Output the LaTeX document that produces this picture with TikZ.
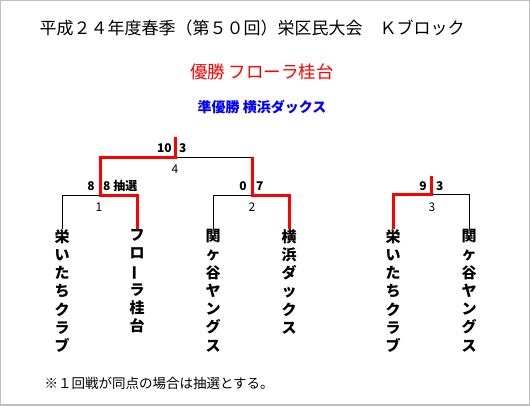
\documentclass[tikz,border=0pt]{standalone}
\usepackage{fontspec}
\setmainfont{Noto Sans CJK JP}
\usepackage{graphicx}
\usetikzlibrary{positioning}

\begin{document}
\begin{tikzpicture}[x=1pt, y=-1pt,
  team/.style={anchor=north, inner sep=0pt, align=center, font=\fontsize{15}{18.3}\selectfont\bfseries},
  score/.style={inner sep=0pt, font=\fontsize{12}{12}\selectfont\bfseries},
  num/.style={inner sep=0pt, font=\fontsize{12}{12}\selectfont},
  lostline/.style={draw=black, line width=1pt},
  wonline/.style={draw=red, line width=3pt}]
\useasboundingbox (0,0) rectangle (530,405);
\draw[black!25, line width=2pt] (0,0) rectangle (530,405);
\node[font=\fontsize{17}{17}\selectfont] (title) at (252,28) {平成２４年度春季（第５０回）栄区民大会　Ｋブロック};
\node[red, font=\fontsize{17.5}{17.5}\selectfont] (champ) at (262,72) {優勝 フローラ桂台};
\node[blue, font=\fontsize{14}{14}\selectfont\bfseries] (runnerup) at (262,107) {準優勝 横浜ダックス};
\coordinate (top4) at (175,137);
\coordinate (m4) at (175,157);
\coordinate (m1) at (100,195);
\coordinate (m2) at (252,195);
\coordinate (top3) at (431,176);
\coordinate (m3) at (431,194);
\node[team] (t1) at (62,229) {栄\\い\\た\\ち\\ク\\ラ\\ブ};
\node[team] (t2) at (137,229) {フ\\ロ\\\rotatebox[origin=c]{90}{ー}\\ラ\\桂\\台};
\node[team] (t3) at (213,229) {関\\ヶ\\谷\\ヤ\\ン\\グ\\ス};
\node[team] (t4) at (289,229) {横\\浜\\ダ\\ッ\\ク\\ス};
\node[team] (t5) at (393,229) {栄\\い\\た\\ち\\ク\\ラ\\ブ};
\node[team] (t6) at (469,229) {関\\ヶ\\谷\\ヤ\\ン\\グ\\ス};
\draw[lostline] (m4) -| (m2);
\draw[lostline] (m1) -| (t1.north);
\draw[lostline] (m2) -| (t3.north);
\draw[lostline] (m3) -| (t6.north);
\draw[wonline] (top4) -- (m4) -| (m1) -| (t2.north);
\draw[wonline] (m2 |- m4) -- (m2) -| (t4.north);
\draw[wonline] (top3) -- (m3) -| (t5.north);
\node[score, anchor=east] (s4a) at (172,148) {10};
\node[score, anchor=west] (s4b) at (179,148) {3};
\node[score, anchor=east] (s1a) at (95,186) {8};
\node[score, anchor=west] (s1b) at (103,186) {8 抽選};
\node[score, anchor=east] (s2a) at (247,186) {0};
\node[score, anchor=west] (s2b) at (256,186) {7};
\node[score, anchor=east] (s3a) at (427,186) {9};
\node[score, anchor=west] (s3b) at (436,186) {3};
\node[num] (n4) at (175,169) {4};
\node[num] (n1) at (99,207) {1};
\node[num] (n2) at (252,207) {2};
\node[num] (n3) at (432,207) {3};
\node[anchor=west, font=\fontsize{13.5}{13.5}\selectfont] (note) at (41,383) {※１回戦が同点の場合は抽選とする。};
\end{tikzpicture}
\end{document}
